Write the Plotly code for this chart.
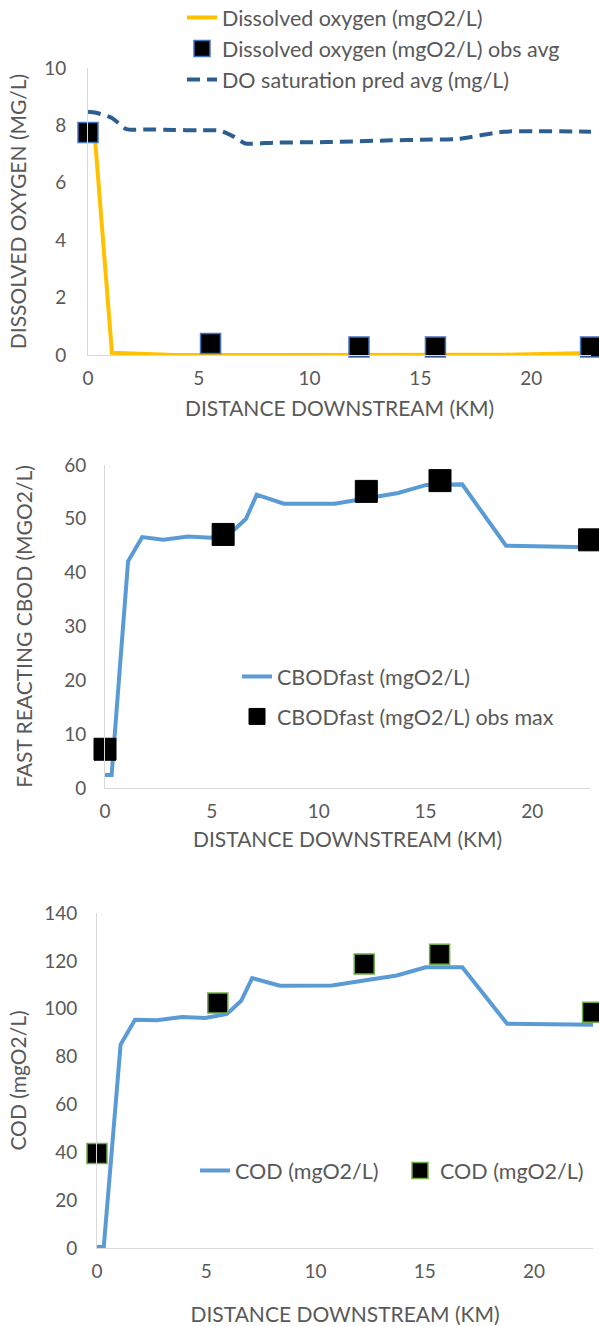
import plotly.graph_objects as go

# River reach distances (km) for the model output
dist_km = [0, 0.31, 1.08, 1.74, 2.73, 3.89, 4.95, 5.95, 6.6, 7.1, 8.37,
           10.75, 13.72, 15.04, 16.72, 18.77, 22.7]

# Dissolved oxygen model output (mgO2/L)
do_pred = [7.7, 7.6, 0.08, 0.06, 0.01, 0.0, 0.0, 0.0, 0.0, 0.0, 0.0,
           0.0, 0.0, 0.0, 0.0, 0.01, 0.07]
# DO saturation (mg/L)
do_sat = [8.48, 8.45, 8.26, 7.87, 7.86, 7.84, 7.83, 7.82, 7.6, 7.37, 7.4,
          7.42, 7.48, 7.5, 7.53, 7.78, 7.78]
# Fast reacting CBOD (mgO2/L)
cbod_fast = [2.4, 2.4, 42.1, 46.6, 46.1, 46.7, 46.5, 47.6, 50.0, 54.5, 52.8,
             52.8, 54.8, 56.3, 56.4, 45.0, 44.7]
# COD (mgO2/L)
cod_pred = [0.4, 0.4, 85.0, 95.4, 95.2, 96.5, 96.1, 97.8, 103.3, 112.8, 109.6,
            109.7, 113.9, 117.3, 117.3, 93.7, 93.3]

# Observation stations (km)
obs_km = [0, 5.53, 12.23, 15.68, 22.68]
do_obs_avg = [7.75, 0.4, 0.28, 0.28, 0.28]
cbod_obs_max = [7.2, 47.1, 55.1, 57.1, 46.1]
cod_obs = [39.5, 102.4, 118.7, 122.8, 98.5]

x_ticks = [0, 5, 10, 15, 20]

FONT = "Lato"
GREY = "#595959"
AXIS_LINE = "#d9d9d9"
W, H = 599, 1326

fig = go.Figure()

# Panel 1: dissolved oxygen
fig.add_trace(go.Scatter(x=dist_km, y=do_pred, mode="lines", name="Dissolved oxygen (mgO2/L)",
                         line=dict(color="#FFC000", width=4), xaxis="x", yaxis="y",
                         legend="legend", cliponaxis=False))
fig.add_trace(go.Scatter(x=obs_km, y=do_obs_avg, mode="markers",
                         name="Dissolved oxygen (mgO2/L) obs avg",
                         marker=dict(symbol="square", size=20, color="black",
                                     line=dict(color="#4472C4", width=1.5)),
                         xaxis="x", yaxis="y", legend="legend", cliponaxis=False))
fig.add_trace(go.Scatter(x=dist_km, y=do_sat, mode="lines", name="DO saturation pred avg (mg/L)",
                         line=dict(color="#2C5F8F", width=4, dash="13px,7px", shape="spline",
                                   smoothing=0.6),
                         xaxis="x", yaxis="y", legend="legend", cliponaxis=False))

# Panel 2: fast reacting CBOD
fig.add_trace(go.Scatter(x=dist_km, y=cbod_fast, mode="lines", name="CBODfast (mgO2/L)",
                         line=dict(color="#5B9BD5", width=4), xaxis="x2", yaxis="y2",
                         legend="legend2", legendgroup="c1", cliponaxis=False))
fig.add_trace(go.Scatter(x=obs_km, y=cbod_obs_max, mode="markers",
                         name="CBODfast (mgO2/L) obs max",
                         marker=dict(symbol="square", size=22, color="black",
                                     line=dict(color="black", width=1)),
                         xaxis="x2", yaxis="y2", legend="legend2", legendgroup="c2",
                         cliponaxis=False))

# Panel 3: COD
fig.add_trace(go.Scatter(x=dist_km, y=cod_pred, mode="lines", name="COD (mgO2/L)",
                         line=dict(color="#5B9BD5", width=4), xaxis="x3", yaxis="y3",
                         legend="legend3", cliponaxis=False))
fig.add_trace(go.Scatter(x=obs_km, y=cod_obs, mode="markers", name="COD (mgO2/L)",
                         marker=dict(symbol="square", size=20, color="black",
                                     line=dict(color="#70AD47", width=1.5)),
                         xaxis="x3", yaxis="y3", legend="legend3", cliponaxis=False))


def xdom(left, right):
    return [left / W, right / W]


def ydom(bottom, top):
    return [1 - bottom / H, 1 - top / H]


def x_axis(dom, anchor, title_gap):
    return dict(domain=dom, anchor=anchor, range=[0, 22.7], tickvals=x_ticks,
                showline=True, linecolor=AXIS_LINE, linewidth=1, showgrid=False,
                zeroline=False, ticks="", ticklabelstandoff=6,
                tickfont=dict(family=FONT, size=19, color=GREY),
                title=dict(text="DISTANCE DOWNSTREAM (KM)", standoff=title_gap,
                           font=dict(family=FONT, size=21, color=GREY)))


def y_axis(dom, anchor, rng, dtick, title, label_gap, title_gap):
    return dict(domain=dom, anchor=anchor, range=rng, dtick=dtick,
                showline=True, linecolor=AXIS_LINE, linewidth=1, showgrid=False,
                zeroline=False, ticks="", ticklabelstandoff=label_gap,
                tickfont=dict(family=FONT, size=19, color=GREY),
                title=dict(text=title, standoff=title_gap,
                           font=dict(family=FONT, size=21, color=GREY)))


legend_font = dict(family=FONT, size=21.5, color=GREY)

fig.update_layout(
    width=W, height=H,
    margin=dict(l=0, r=0, t=0, b=0, autoexpand=False),
    paper_bgcolor="white", plot_bgcolor="white",
    font=dict(family=FONT, color=GREY),
    showlegend=True,
    xaxis=x_axis(xdom(88, 591), "y", 13),
    yaxis=y_axis(ydom(355, 68), "x", [0, 10], 2, "DISSOLVED OXYGEN (MG/L)", 17, 11),
    xaxis2=x_axis(xdom(105, 590), "y2", 11),
    yaxis2=y_axis(ydom(788, 465), "x2", [0, 60], 10, "FAST REACTING CBOD (MGO2/L)", 14, 25),
    xaxis3=x_axis(xdom(97, 593), "y3", 28),
    yaxis3=y_axis(ydom(1248, 913), "x3", [0, 140], 20, "COD (mgO2/L)", 15, 11),
    legend=dict(x=182 / W, y=1 + 3 / H, xanchor="left", yanchor="top", font=legend_font,
                bgcolor="rgba(0,0,0,0)", orientation="v"),
    legend2=dict(x=237 / W, y=1 - 656 / H, xanchor="left", yanchor="top", font=legend_font,
                 bgcolor="rgba(0,0,0,0)", traceorder="grouped", tracegroupgap=9),
    legend3=dict(x=195 / W, y=1 - 1150 / H, xanchor="left", yanchor="top", font=legend_font,
                 bgcolor="rgba(0,0,0,0)", orientation="h", entrywidth=160,
                 entrywidthmode="pixels"),
)

fig.write_html("out.html")
